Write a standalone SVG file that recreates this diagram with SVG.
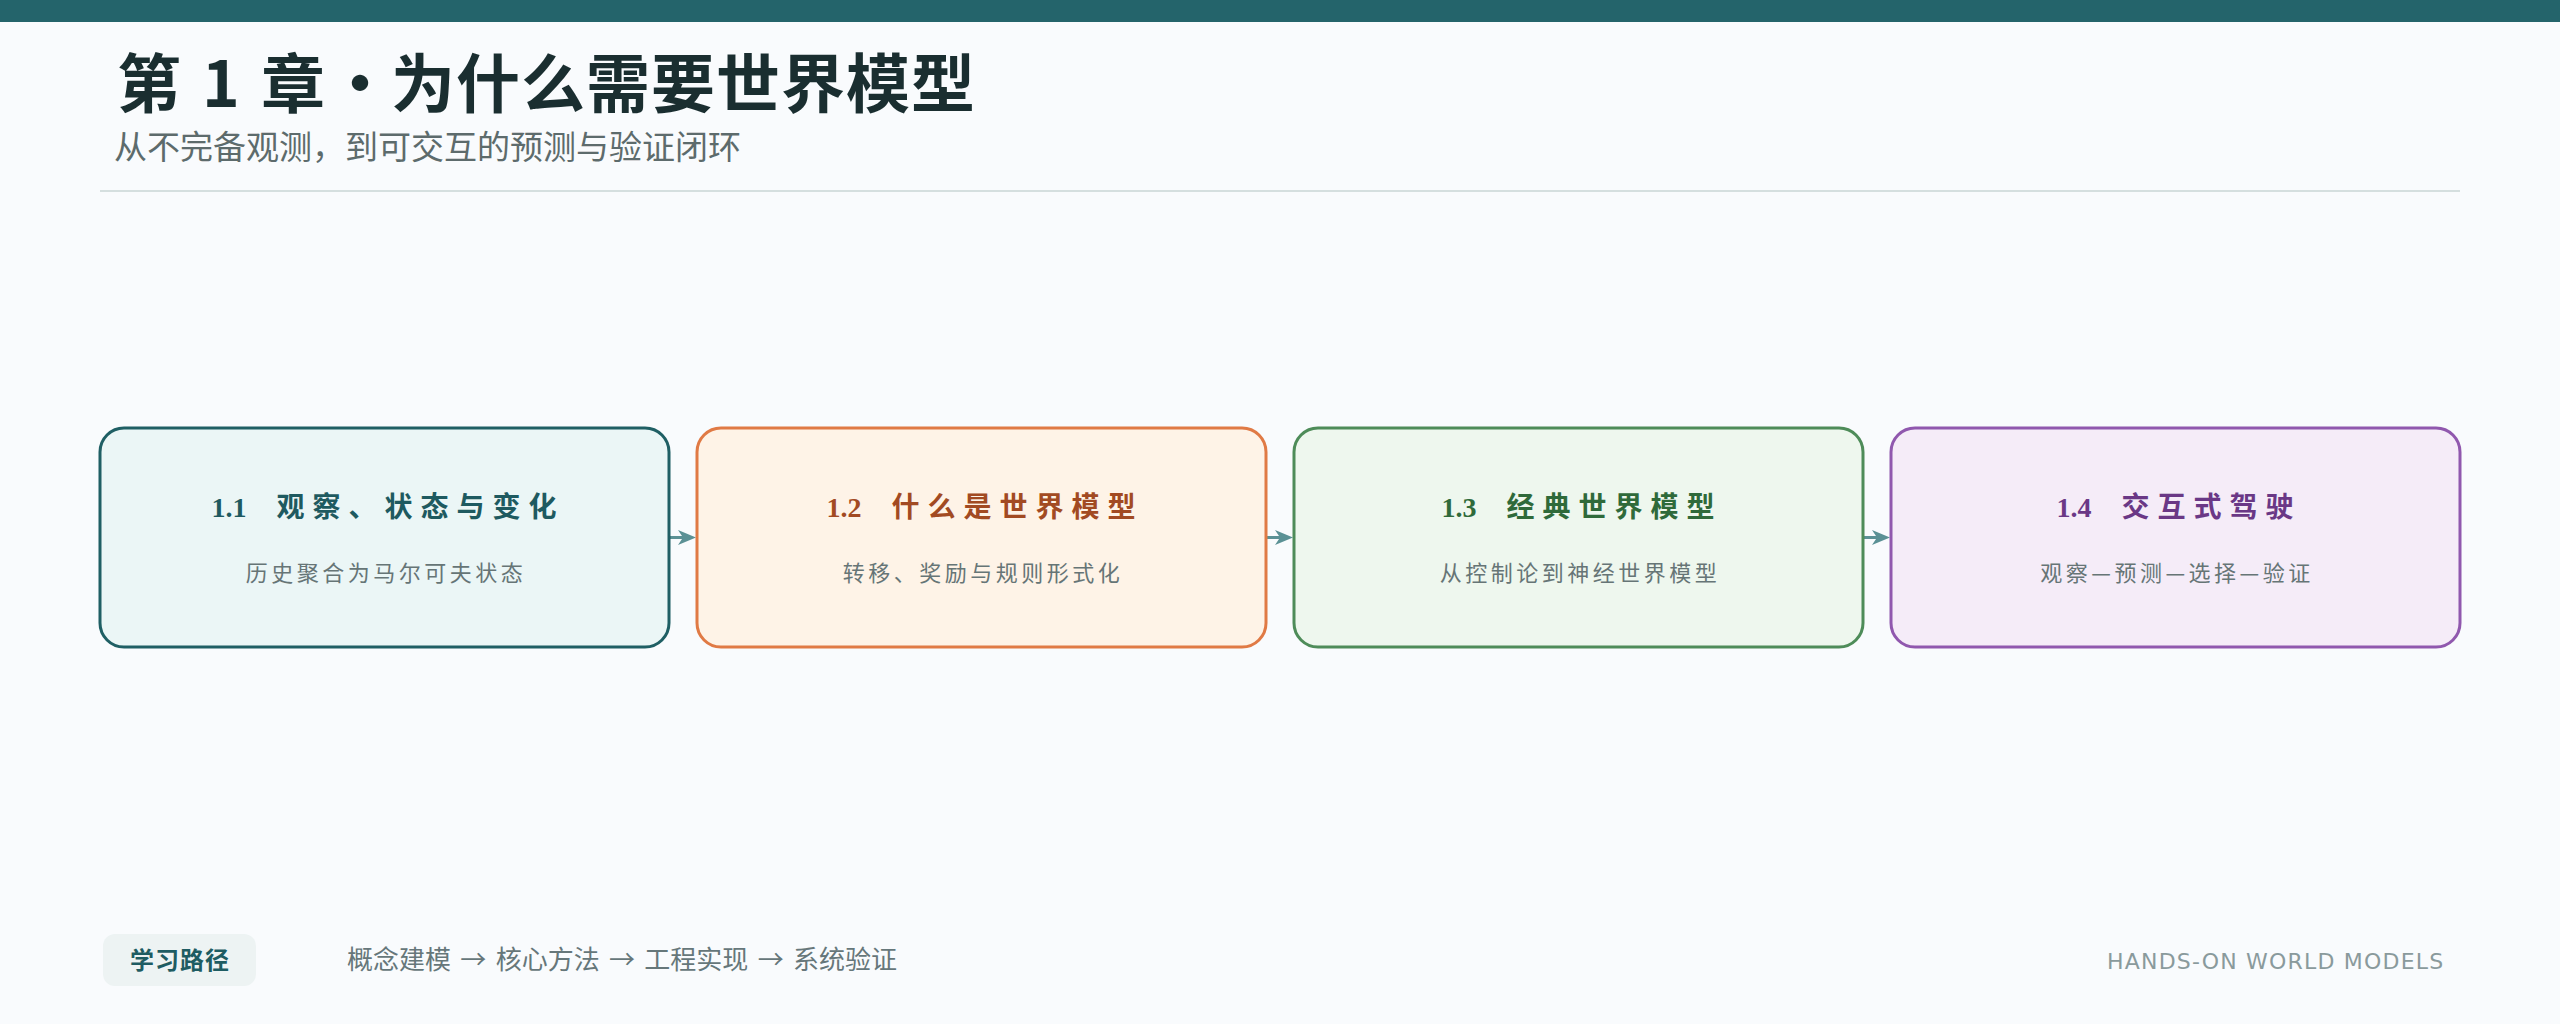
<svg xmlns="http://www.w3.org/2000/svg" width="2560" height="1024" viewBox="0 0 2560 1024">
  <style>
    .h1 { font-family: "Noto Sans CJK SC", "Noto Sans", sans-serif; font-size: 64px; font-weight: 700; fill: #1a2e30; }
    .sub { font-family: "Noto Sans CJK SC", "Noto Sans", sans-serif; font-size: 33px; fill: #5d6b6c; }
    .box { stroke-width: 3; }
    .bt { font-family: "Liberation Serif", "Noto Sans CJK SC", serif; font-size: 28px; font-weight: 700; text-anchor: middle; }
    .btc { font-family: "Noto Sans CJK SC", sans-serif; font-size: 28px; letter-spacing: 8px; }
    .bs { font-family: "Noto Sans CJK SC", sans-serif; font-size: 22px; fill: #667576; letter-spacing: 3.5px; text-anchor: middle; }
    .conn { stroke: #5b9195; stroke-width: 3; fill: none; }
    .pill { fill: #edf3f3; }
    .pilltxt { font-family: "Noto Sans CJK SC", sans-serif; font-size: 24px; font-weight: 700; fill: #1e5c62; letter-spacing: 1px; text-anchor: middle; }
    .path { font-family: "Noto Sans CJK SC", sans-serif; font-size: 26px; fill: #66777a; }
    .brand { font-family: "DejaVu Sans", sans-serif; font-size: 22px; fill: #8a9a9c; letter-spacing: 1.2px; }
  </style>
  <defs>
    <marker id="arr" markerUnits="userSpaceOnUse" markerWidth="18" markerHeight="15" refX="9" refY="7.5" orient="auto">
      <path d="M0,0 L18,7.5 L0,15 L5,7.5 z" fill="#5b9195"/>
    </marker>
  </defs>

  <rect x="0" y="0" width="2560" height="1024" fill="#f9fbfd"/>
  <rect x="0" y="0" width="2560" height="22" fill="#24646b"/>

  <g id="header">
    <text class="h1" x="117" y="107">第<tspan x="202">1</tspan><tspan x="261">章</tspan><tspan x="391" letter-spacing="1">为什么需要世界模型</tspan></text>
    <text class="h1" x="360" y="107" text-anchor="middle">·</text>
    <text class="sub" x="114" y="159">从不完备观测，到可交互的预测与验证闭环</text>
    <line x1="100" y1="191" x2="2460" y2="191" stroke="#d5dfdf" stroke-width="2"/>
  </g>

  <g id="connectors">
    <line class="conn" x1="669" y1="537.5" x2="687" y2="537.5" marker-end="url(#arr)"/>
    <line class="conn" x1="1266" y1="537.5" x2="1284" y2="537.5" marker-end="url(#arr)"/>
    <line class="conn" x1="1863" y1="537.5" x2="1881" y2="537.5" marker-end="url(#arr)"/>
  </g>

  <g id="node-1-1">
    <rect class="box" x="100" y="428" width="569" height="219" rx="24" fill="#ebf6f6" stroke="#1f5f64"/>
    <text class="bt" x="388" y="517" fill="#1e5a60">1.1<tspan class="btc" dx="30">观察、状态与变化</tspan></text>
    <text class="bs" x="386" y="581">历史聚合为马尔可夫状态</text>
  </g>

  <g id="node-1-2">
    <rect class="box" x="697" y="428" width="569" height="219" rx="24" fill="#fef3e7" stroke="#e07a45"/>
    <text class="bt" x="985" y="517" fill="#a24a22">1.2<tspan class="btc" dx="30">什么是世界模型</tspan></text>
    <text class="bs" x="983" y="581">转移、奖励与规则形式化</text>
  </g>

  <g id="node-1-3">
    <rect class="box" x="1294" y="428" width="569" height="219" rx="24" fill="#eef7ee" stroke="#4e8c59"/>
    <text class="bt" x="1582" y="517" fill="#2f6a3a">1.3<tspan class="btc" dx="30">经典世界模型</tspan></text>
    <text class="bs" x="1580" y="581">从控制论到神经世界模型</text>
  </g>

  <g id="node-1-4">
    <rect class="box" x="1891" y="428" width="569" height="219" rx="24" fill="#f5ecf8" stroke="#9058ae"/>
    <text class="bt" x="2179" y="517" fill="#6a3886">1.4<tspan class="btc" dx="30">交互式驾驶</tspan></text>
    <text class="bs" x="2177" y="581">观察—预测—选择—验证</text>
  </g>

  <g id="footer">
    <rect class="pill" x="103" y="934" width="153" height="52" rx="12"/>
    <text class="pilltxt" x="180" y="969">学习路径</text>
    <text class="path" x="347" y="969">概念建模 <tspan dx="3.5">→</tspan> <tspan dx="3.5">核心方法</tspan> <tspan dx="3.5">→</tspan> <tspan dx="3.5">工程实现</tspan> <tspan dx="3.5">→</tspan> <tspan dx="3.5">系统验证</tspan></text>
    <text class="brand" x="2107" y="969">HANDS-ON WORLD MODELS</text>
  </g>
</svg>
